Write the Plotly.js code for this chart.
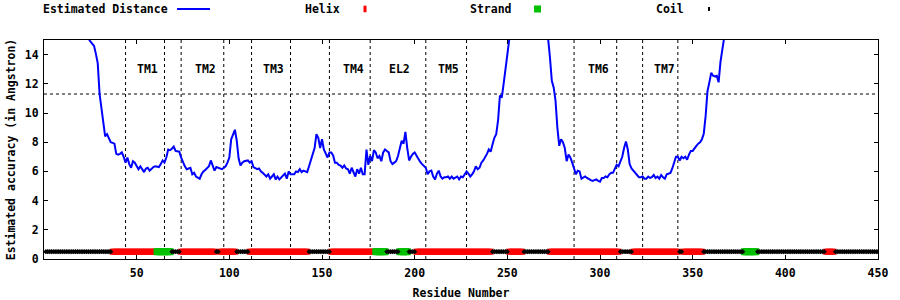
<!DOCTYPE html>
<html>
<head>
<meta charset="utf-8">
<script src="https://cdn.plot.ly/plotly-3.0.1.min.js"></script>
<style>
  html, body { margin: 0; padding: 0; background: #fff; }
  #chart { width: 900px; height: 300px; }
</style>
</head>
<body>
<div id="chart"></div>
<script>
// ---------- DATA ----------
// Estimated distance, one value per residue starting at distStart (null = off the chart)
const distStart = 22;
const distValues = [
  16.0,15.5,15.1,14.9,14.75,14.6,14.05,13.4,
  11.3,10.3,9.2,8.4,8.55,8.2,8.0,7.95,7.9,7.2,
  7.15,7.2,7.3,7.0,6.6,6.95,6.5,6.25,6.7,6.6,
  6.4,6.15,6.35,6.1,5.95,6.2,6.25,6.05,6.2,6.3,
  6.35,6.3,6.3,6.5,6.75,6.6,6.95,7.5,7.45,7.55,
  7.7,7.4,7.35,7.35,6.95,6.6,6.35,6.15,6.2,6.25,
  5.8,5.9,5.65,5.6,5.5,5.8,6.0,6.1,6.25,6.35,
  6.75,6.35,6.05,6.3,6.25,6.2,6.15,6.25,6.35,6.6,
  6.95,8.2,8.55,8.85,8.1,6.9,6.4,6.6,6.7,6.75,
  6.75,6.6,6.7,6.3,6.2,6.15,6.2,6.0,5.9,5.8,
  5.65,5.8,5.5,5.65,5.8,5.45,5.65,5.45,5.6,5.75,
  5.85,5.5,6.0,5.8,5.8,5.8,6.0,5.95,6.15,5.95,
  6.05,6.0,5.95,6.35,6.8,7.2,7.6,8.55,8.3,7.6,
  8.2,7.5,7.15,6.95,7.3,7.3,7.1,6.6,6.6,6.45,
  6.4,6.25,6.4,6.2,6.15,5.85,6.25,5.95,5.65,6.15,
  5.85,6.25,5.8,5.8,7.5,6.45,7.05,6.7,7.45,7.3,
  6.9,7.05,6.7,7.3,7.5,7.4,7.3,6.7,6.5,6.6,
  6.7,7.05,7.6,8.1,7.9,8.7,7.6,6.75,7.0,7.2,
  7.3,7.05,6.8,6.65,6.5,6.35,6.25,5.8,6.0,6.05,
  5.65,5.45,5.85,6.05,5.65,5.5,5.6,5.6,5.65,5.5,
  5.65,5.5,5.55,5.65,5.45,5.65,5.6,5.85,6.0,5.85,
  5.65,5.8,6.0,6.35,6.15,6.25,6.6,6.75,6.95,7.2,
  7.5,7.35,7.85,8.3,8.55,9.5,11.2,11.05,12.0,13.1,
  14.15,15.0,16.0,null,null,null,null,null,null,null,
  null,null,null,null,null,null,null,null,null,null,
  null,16.0,15.1,13.8,12.2,11.75,10.85,9.0,7.75,8.2,
  8.0,7.6,6.7,7.15,6.95,6.6,6.1,5.8,6.05,6.0,
  5.5,5.55,5.65,5.55,5.45,5.4,5.35,5.4,5.45,5.35,
  5.3,5.55,5.55,5.65,5.6,5.8,5.9,5.9,6.15,6.45,
  6.35,6.7,7.0,7.6,8.05,7.5,6.5,6.2,6.05,5.95,
  5.8,5.6,5.6,5.65,5.5,5.5,5.65,5.55,5.6,5.75,
  5.55,5.65,5.5,5.75,5.6,5.5,5.8,5.85,5.9,6.2,
  6.6,7.0,7.0,6.75,7.0,6.9,7.0,6.8,7.15,7.4,
  7.4,7.6,7.75,7.9,8.0,8.2,8.6,9.8,11.5,12.1,
  12.75,12.55,12.5,12.55,12.1,13.5,14.2,15.1,16.0
];

// Secondary structure segments [first residue, last residue]
const helixSegments  = [[37,60],[74,92],[95,103],[111,142],[155,178],[201,241],[251,258],[273,310],[318,342],[345,355],[422,426]];
const strandSegments = [[61,68],[179,184],[192,196],[378,384]];
const coilSegments   = [[1,36],[69,73],[93,94],[104,110],[143,154],[185,191],[197,200],[242,250],[259,272],[311,317],[343,344],[356,377],[385,421],[427,450]];
const ssLevel = 0.5;

// Region boundaries and labels
const boundaries = [44,65,74,97,112,133,154,176,206,228,286,309,323,342];
const regionLabels = ['TM1','TM2','TM3','TM4','EL2','TM5','TM6','TM7'];
const regionLabelX = [56,87,124,167,192,218,299,335];
const regionLabelY = 13;
const cutoff = 11.3;

const xTicks = [50,100,150,200,250,300,350,400,450];
const yTicks = [0,2,4,6,8,10,12,14];

// ---------- BUILD ----------
const distX = distValues.map((v, i) => distStart + i);
function expand(segs) {
  const xs = [];
  segs.forEach(([a, b]) => { for (let r = a; r <= b; r++) xs.push(r); });
  return xs;
}
const hx = expand(helixSegments), sx = expand(strandSegments), cx = expand(coilSegments);

const FONT = {family: 'DejaVu Sans Mono, monospace', size: 11.5, color: '#000', weight: 'bold'};

const traces = [
  {x: distX, y: distValues, type: 'scatter', mode: 'lines', name: 'Estimated Distance',
   line: {color: '#0000ff', width: 2}, connectgaps: false, hoverinfo: 'skip'},
  {x: hx, y: hx.map(() => ssLevel), type: 'scatter', mode: 'markers', name: 'Helix',
   marker: {symbol: 'square', size: 6, color: '#ff0000'}, hoverinfo: 'skip'},
  {x: sx, y: sx.map(() => ssLevel), type: 'scatter', mode: 'markers', name: 'Strand',
   marker: {symbol: 'square', size: 7, color: '#00c000'}, hoverinfo: 'skip'},
  {x: cx, y: cx.map(() => ssLevel), type: 'scatter', mode: 'markers', name: 'Coil',
   marker: {symbol: 'diamond', size: 4, color: '#000000'}, hoverinfo: 'skip'}
];

const shapes = [];
boundaries.forEach(b => shapes.push({type: 'line', xref: 'x', yref: 'paper', x0: b, x1: b, y0: 0, y1: 1,
  line: {color: '#000', width: 1, dash: 'dot'}, layer: 'below'}));
shapes.push({type: 'line', xref: 'paper', yref: 'y', x0: 0, x1: 1, y0: cutoff, y1: cutoff,
  line: {color: '#000', width: 1, dash: 'dot'}, layer: 'below'});

// Legend (gnuplot style: text then sample)
const LY = 1.1416;
shapes.push({type: 'line', xref: 'paper', yref: 'paper', x0: 0.1595, x1: 0.199, y0: LY, y1: LY, line: {color: '#0000ff', width: 2}});
shapes.push({type: 'rect', xref: 'paper', yref: 'paper', x0: 0.3831, x1: 0.3867, y0: LY - 0.015, y1: LY + 0.015, line: {width: 0}, fillcolor: '#ff0000'});
shapes.push({type: 'rect', xref: 'paper', yref: 'paper', x0: 0.5875, x1: 0.5959, y0: LY - 0.016, y1: LY + 0.016, line: {width: 0}, fillcolor: '#00c000'});
shapes.push({type: 'rect', xref: 'paper', yref: 'paper', x0: 0.7962, x1: 0.7986, y0: LY - 0.009, y1: LY + 0.009, line: {width: 0}, fillcolor: '#000000'});

const annotations = [];
const legendNames = ['Estimated Distance', 'Helix', 'Strand', 'Coil'];
const legendTextRight = [0.1511, 0.3573, 0.5635, 0.7698];
legendNames.forEach((t, i) => annotations.push({text: t, xref: 'paper', yref: 'paper', x: legendTextRight[i], y: LY,
  xanchor: 'right', yanchor: 'middle', showarrow: false, font: FONT}));
regionLabels.forEach((t, i) => annotations.push({text: t, xref: 'x', yref: 'y', x: regionLabelX[i], y: regionLabelY,
  xanchor: 'center', yanchor: 'middle', showarrow: false, font: FONT}));

const layout = {
  width: 900, height: 300,
  margin: {l: 44, r: 22, t: 40, b: 41},
  paper_bgcolor: '#fff', plot_bgcolor: '#fff',
  showlegend: false,
  font: FONT,
  xaxis: {range: [0, 450], tickvals: xTicks, ticks: 'inside', ticklen: 4, tickcolor: '#000',
    showline: true, linecolor: '#000', linewidth: 1, mirror: 'ticks', showgrid: false, zeroline: false,
    tickfont: FONT, automargin: false, ticklabelstandoff: 3,
    title: {text: 'Residue Number', font: FONT, standoff: 12}},
  yaxis: {range: [0, 15], tickvals: yTicks, ticks: 'inside', ticklen: 4, tickcolor: '#000',
    showline: true, linecolor: '#000', linewidth: 1, mirror: 'ticks', showgrid: false, zeroline: false,
    tickfont: FONT, automargin: false, ticklabelstandoff: 2,
    title: {text: 'Estimated accuracy (in Angstron)', font: FONT, standoff: 6}},
  shapes: shapes,
  annotations: annotations
};

Plotly.newPlot('chart', traces, layout, {displayModeBar: false, staticPlot: true});
</script>
</body>
</html>
